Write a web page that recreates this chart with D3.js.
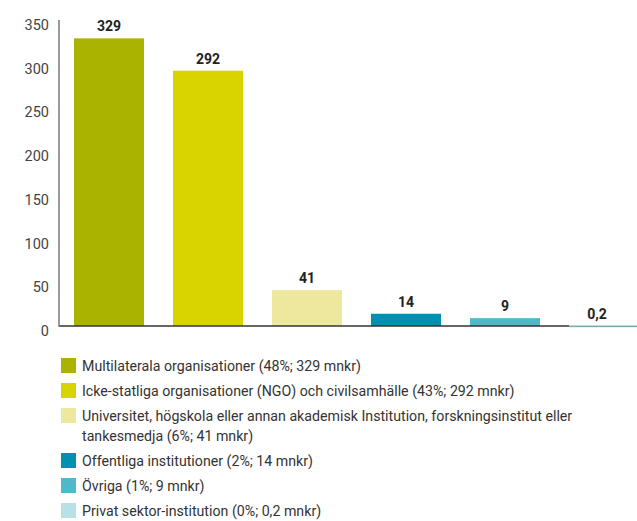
<!DOCTYPE html>
<html><head><meta charset="utf-8">
<script src="https://cdn.jsdelivr.net/npm/d3@7"></script>
<style>body{margin:0;background:#fff}svg{display:block}</style>
</head><body>
<script>
const categories = ["Multilaterala organisationer","Icke-statliga organisationer (NGO) och civilsamhälle","Universitet, högskola eller annan akademisk Institution, forskningsinstitut eller tankesmedja","Offentliga institutioner","Övriga","Privat sektor-institution"];
const values = [329, 292, 41, 14, 9, 0.2];
const valueLabels = ["329","292","41","14","9","0,2"];
const legendLines = [
 ["Multilaterala organisationer (48%; 329 mnkr)"],
 ["Icke-statliga organisationer (NGO) och civilsamhälle (43%; 292 mnkr)"],
 ["Universitet, högskola eller annan akademisk Institution, forskningsinstitut eller","tankesmedja (6%; 41 mnkr)"],
 ["Offentliga institutioner (2%; 14 mnkr)"],
 ["Övriga (1%; 9 mnkr)"],
 ["Privat sektor-institution (0%; 0,2 mnkr)"]
];
const colors = ["#aab300","#d9d400","#ede89d","#0091b1","#4fb9c9","#b7e1e6"];
const yTicks = [0,50,100,150,200,250,300,350];

const W=637,H=521;
const svg=d3.select("body").append("svg").attr("width",W).attr("height",H);
const font="Roboto, sans-serif";
const y=d3.scaleLinear().domain([0,350]).range([326,20]);
const x=d3.scaleBand().domain(categories).range([59,654]).paddingInner(0.293).paddingOuter(0.1515);

// bars
svg.selectAll("rect.bar").data(values).join("rect")
 .attr("x",(d,i)=>x(categories[i])).attr("width",x.bandwidth())
 .attr("y",d=>y(d)).attr("height",d=>Math.max(1.5,y(0)-y(d)))
 .attr("fill",(d,i)=>colors[i]);

// baseline
svg.append("line").attr("x1",59).attr("x2",W).attr("y1",y(0)).attr("y2",y(0))
 .attr("stroke","#333").attr("stroke-width",1.5);
// y axis line
svg.append("line").attr("x1",59).attr("x2",59).attr("y1",y(350)).attr("y2",y(0)+0.75)
 .attr("stroke","#777").attr("stroke-width",1.5);

// redraw last bar over baseline
svg.append("rect").attr("x",x(categories[5])).attr("width",x.bandwidth())
 .attr("y",y(0)-1).attr("height",1.5).attr("fill",colors[5]);

// y tick labels
svg.selectAll("text.yt").data(yTicks).join("text")
 .attr("x",49).attr("y",d=>y(d)+10).attr("text-anchor","end")
 .attr("font-family",font).attr("font-size",14.5).attr("fill","#444").text(d=>d);

// value labels
svg.selectAll("text.vl").data(values).join("text")
 .attr("x",(d,i)=>Math.min(x(categories[i])+x.bandwidth()/2, W-40)).attr("y",d=>y(d)-7)
 .attr("text-anchor","middle").attr("font-family",font).attr("font-weight","bold")
 .attr("font-size",14).attr("fill","#222").text((d,i)=>valueLabels[i]);

// legend
let ly=358;
legendLines.forEach((lines,i)=>{
  svg.append("rect").attr("x",61).attr("y",ly).attr("width",15).attr("height",15).attr("fill",colors[i]);
  lines.forEach((t,j)=>{
    svg.append("text").attr("x",82).attr("y",ly+13+j*20).attr("font-family",font)
     .attr("font-size",14.2).attr("fill","#333").text(t);
  });
  ly+=25+(lines.length-1)*20;
});
</script>
</body></html>
